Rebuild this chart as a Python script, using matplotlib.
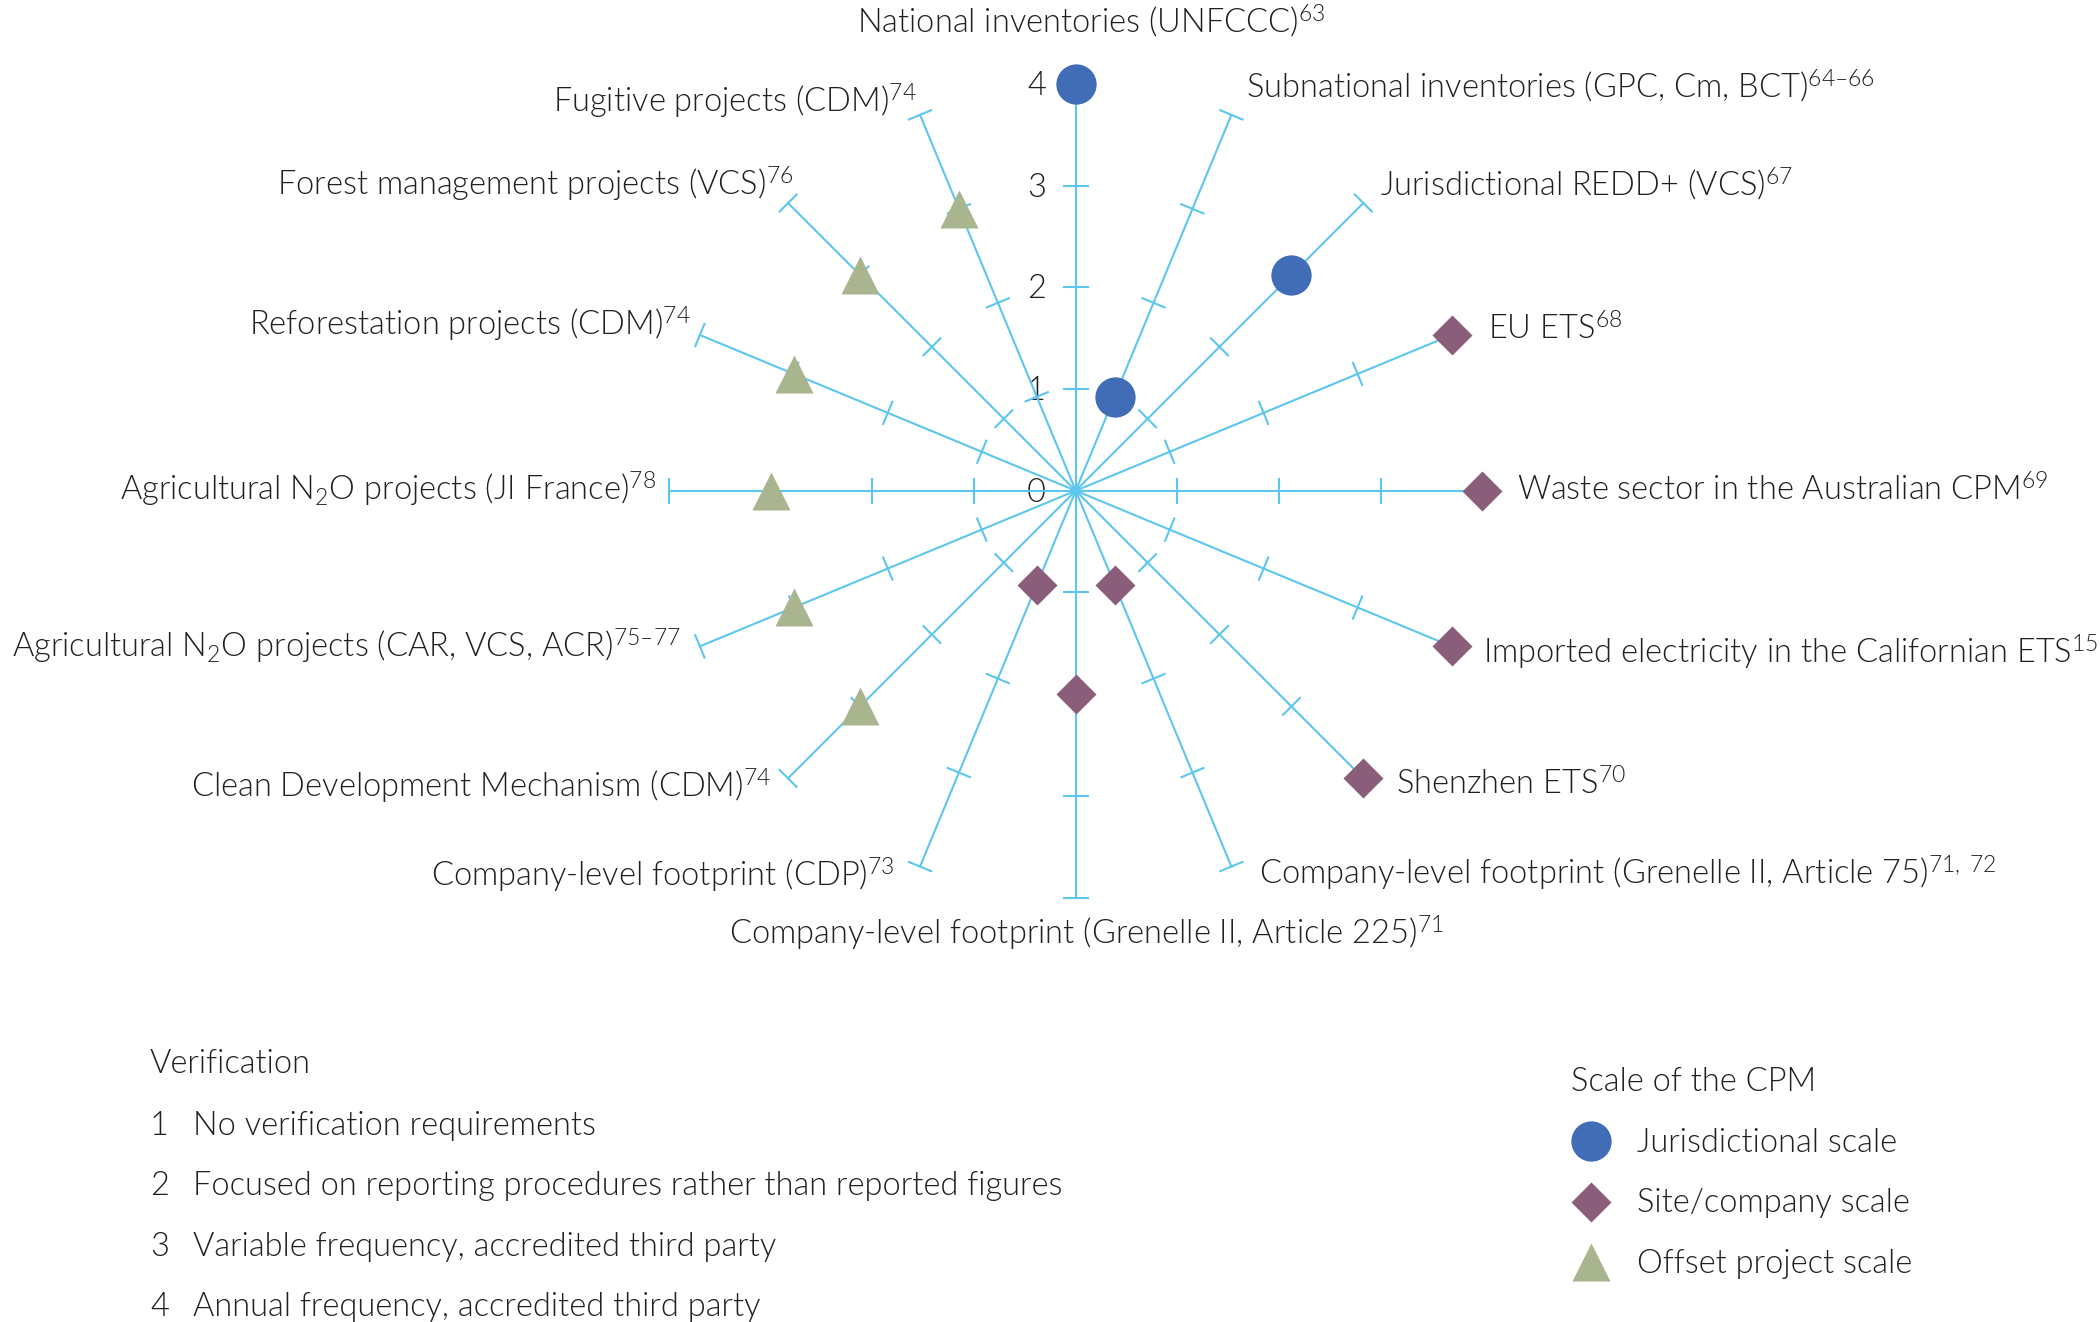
import numpy as np
import matplotlib.pyplot as plt

plt.rcParams['font.family'] = ['Lato', 'DejaVu Sans']
plt.rcParams['font.weight'] = 300
plt.rcParams['mathtext.fontset'] = 'custom'
plt.rcParams['mathtext.rm'] = 'Lato:weight=300'
plt.rcParams['mathtext.it'] = 'Lato:italic'
plt.rcParams['mathtext.bf'] = 'Lato:bold'

# data: one spoke per carbon pricing mechanism, clockwise from the top
schemes = [
    'National inventories (UNFCCC)$^{63}$',
    'Subnational inventories (GPC, Cm, BCT)$^{64–66}$',
    'Jurisdictional REDD+ (VCS)$^{67}$',
    'EU ETS$^{68}$',
    'Waste sector in the Australian CPM$^{69}$',
    'Imported electricity in the Californian ETS$^{15}$',
    'Shenzhen ETS$^{70}$',
    'Company-level footprint (Grenelle II, Article 75)$^{71,\\ 72}$',
    'Company-level footprint (Grenelle II, Article 225)$^{71}$',
    'Company-level footprint (CDP)$^{73}$',
    'Clean Development Mechanism (CDM)$^{74}$',
    'Agricultural N$_2$O projects (CAR, VCS, ACR)$^{75–77}$',
    'Agricultural N$_2$O projects (JI France)$^{78}$',
    'Reforestation projects (CDM)$^{74}$',
    'Forest management projects (VCS)$^{76}$',
    'Fugitive projects (CDM)$^{74}$',
]
verification = [4, 1, 3, 4, 4, 4, 4, 1, 2, 1, 3, 3, 3, 3, 3, 3]
scale = ['jur', 'jur', 'jur', 'site', 'site', 'site', 'site', 'site', 'site',
         'site', 'offset', 'offset', 'offset', 'offset', 'offset', 'offset']

scale_names = ['Jurisdictional scale', 'Site/company scale', 'Offset project scale']
scale_keys = ['jur', 'site', 'offset']
levels = [1, 2, 3, 4]
level_text = ['No verification requirements',
              'Focused on reporting procedures rather than reported figures',
              'Variable frequency, accredited third party',
              'Annual frequency, accredited third party']

# styles
W, H = 2100, 1322
CX, CY, U = 1075.7, 490.7, 101.7   # centre (px) and px per unit
line_c = '#5cc6ee'
txt_c = '#231f20'
fs = 23.5
style = {'jur': dict(marker='o', color='#416db6', ms=29),
         'site': dict(marker='D', color='#8a5e7b', ms=20.4),
         'offset': dict(marker='^', color='#a8b58f', ms=28)}

# label anchors in px: (x, baseline y, ha)
label_pos = [(1091, 33, 'center'), (1246, 98, 'left'), (1380, 196, 'left'),
             (1488, 340, 'left'), (1517, 501, 'left'), (1483, 664, 'left'),
             (1396, 795, 'left'), (1259, 885, 'left'), (1086, 945, 'center'),
             (895, 887, 'right'), (771, 798, 'right'), (681, 658, 'right'),
             (656, 501, 'right'), (691, 336, 'right'), (793, 196, 'right'),
             (917, 113, 'right')]

fig = plt.figure(figsize=(W / 100, H / 100), dpi=100)
ax = fig.add_axes([0, 0, 1, 1])
ax.set_xlim(-CX / U, (W - CX) / U)
ax.set_ylim(-(H - CY) / U, CY / U)
ax.axis('off')

angles = np.deg2rad(90 - 22.5 * np.arange(len(schemes)))
half = 12 / U
for a in angles:
    d = np.array([np.cos(a), np.sin(a)])
    p = np.array([-np.sin(a), np.cos(a)])
    ax.plot([0, 4 * d[0]], [0, 4 * d[1]], color=line_c, lw=1.5, zorder=2)
    for r in [1, 2, 3, 4]:
        c = r * d
        ax.plot([c[0] - half * p[0], c[0] + half * p[0]],
                [c[1] - half * p[1], c[1] + half * p[1]],
                color=line_c, lw=1.5, zorder=2)

for a, v, s in zip(angles, verification, scale):
    st = style[s]
    ax.plot(v * np.cos(a), v * np.sin(a), linestyle='none', marker=st['marker'],
            ms=st['ms'], color=st['color'], mec='none', zorder=3)

# radial tick labels
for r in range(5):
    ax.text(-0.385, r - 11 / U, str(r), ha='center', va='baseline',
            fontsize=fs, color=txt_c, zorder=1)

def ftext(x, y, s, ha='left', **kw):
    fig.text(x / W, 1 - y / H, s, ha=ha, va='baseline', fontsize=fs,
             color=txt_c, **kw)

for s, (x, y, ha) in zip(schemes, label_pos):
    ftext(x, y, s, ha=ha)

# verification key
ftext(150, 1073, 'Verification')
for i, (n, t) in enumerate(zip(levels, level_text)):
    y = 1135 + 60.3 * i
    ftext(150, y, str(n))
    ftext(193, y, t)

# scale key
ftext(1571, 1091, 'Scale of the CPM')
for i, (k, name) in enumerate(zip(scale_keys, scale_names)):
    y = 1141 + 60.5 * i
    st = style[k]
    ax.plot((1591 - CX) / U, (CY - y) / U, linestyle='none', marker=st['marker'],
            ms=st['ms'], color=st['color'], mec='none', clip_on=False)
    ftext(1637, y + 11, name)

fig.savefig('out.png', dpi=100)
